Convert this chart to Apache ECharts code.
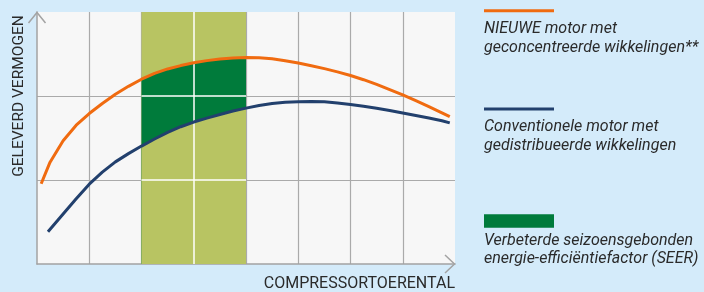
<!DOCTYPE html>
<html>
<head>
<meta charset="utf-8">
<script src="https://cdn.jsdelivr.net/npm/echarts@6/dist/echarts.min.js"></script>
<style>
html,body{margin:0;padding:0;background:#d4ebfa;}
#c{width:704px;height:292px;}
</style>
</head>
<body>
<div id="c"></div>
<script>
// Data (x: compressor speed, y: delivered capacity, relative units)
var xTicks = [0, 1, 2, 3, 4, 5, 6, 7, 8];
var yTicks = [0, 1, 2, 3];
var newMotorX = [0.08, 0.25, 0.5, 0.75, 1, 1.25, 1.5, 1.75, 2, 2.25, 2.5, 2.75, 3, 3.25, 3.5, 3.75, 4,
                 4.25, 4.5, 4.75, 5, 5.25, 5.5, 5.75, 6, 6.25, 6.5, 6.75, 7, 7.25, 7.5, 7.75, 7.9];
var newMotorY = [0.955, 1.212, 1.468, 1.652, 1.791, 1.910, 2.020, 2.115, 2.200, 2.269, 2.322, 2.362, 2.395, 2.421, 2.440, 2.453, 2.459,
                 2.456, 2.443, 2.420, 2.392, 2.360, 2.326, 2.287, 2.244, 2.194, 2.138, 2.077, 2.013, 1.944, 1.873, 1.799, 1.754];
var convMotorX = [0.21, 0.5, 0.75, 1, 1.25, 1.5, 1.75, 2, 2.25, 2.5, 2.75, 3, 3.25, 3.5, 3.75, 4,
                  4.25, 4.5, 4.75, 5, 5.25, 5.5, 5.75, 6, 6.25, 6.5, 6.75, 7, 7.25, 7.5, 7.75, 7.9];
var convMotorY = [0.384, 0.596, 0.776, 0.950, 1.093, 1.216, 1.314, 1.404, 1.488, 1.566, 1.634, 1.690, 1.736, 1.780, 1.822, 1.856,
                  1.887, 1.910, 1.925, 1.933, 1.936, 1.931, 1.918, 1.899, 1.879, 1.855, 1.828, 1.797, 1.767, 1.737, 1.706, 1.680];
var seerBand = [2, 4];
var legendTexts = [
  "NIEUWE motor met\ngeconcentreerde wikkelingen**",
  "Conventionele motor met\ngedistribueerde wikkelingen",
  "Verbeterde seizoensgebonden\nenergie-efficiëntiefactor (SEER)"
];
var yTitle = "GELEVERD VERMOGEN";
var xTitle = "COMPRESSORTOERENTAL";

var C_ORANGE = '#f06b10', C_NAVY = '#22406d', C_OLIVE = '#b8c462', C_GREEN = '#007b3b';
var C_GRID = '#aaaaaa', C_AXIS = '#a3a3a3', C_TEXT = '#2a2a2a';

function pairs(xs, ys) { return xs.map(function (x, i) { return [x, ys[i]]; }); }
function inBand(xs, ys) {
  return pairs(xs, ys).filter(function (p) { return p[0] >= seerBand[0] && p[0] <= seerBand[1]; });
}

var chart = echarts.init(document.getElementById('c'), null, {renderer: 'canvas'});
var FONT = 'Roboto, "DejaVu Sans", sans-serif';
var SM = false;

chart.setOption({
  backgroundColor: '#d4ebfa',
  animation: false,
  grid: {left: 37, right: 249, top: 12, bottom: 28, show: true, backgroundColor: '#f7f7f7', borderWidth: 0},
  xAxis: {
    type: 'value', min: xTicks[0], max: xTicks[xTicks.length - 1], interval: 1,
    axisLine: {show: true, lineStyle: {color: C_AXIS, width: 1.5}},
    axisTick: {show: false}, axisLabel: {show: false},
    splitLine: {show: true, showMinLine: false, showMaxLine: false, lineStyle: {color: C_GRID, width: 1.2}}
  },
  yAxis: {
    type: 'value', min: yTicks[0], max: yTicks[yTicks.length - 1], interval: 1,
    axisLine: {show: true, lineStyle: {color: C_AXIS, width: 1.5}},
    axisTick: {show: false}, axisLabel: {show: false},
    splitLine: {show: true, showMinLine: false, showMaxLine: false, lineStyle: {color: C_GRID, width: 1.2}}
  },
  series: [
    {
      type: 'line', z: 1, data: [], silent: true,
      markArea: {silent: true, itemStyle: {color: C_OLIVE}, data: [[{xAxis: seerBand[0]}, {xAxis: seerBand[1]}]]}
    },
    {
      type: 'line', z: 2, smooth: SM, symbol: 'none', silent: true,
      data: inBand(newMotorX, newMotorY),
      lineStyle: {width: 0}, areaStyle: {color: C_GREEN, opacity: 1, origin: 'start'}
    },
    {
      type: 'line', z: 3, smooth: SM, symbol: 'none', silent: true,
      data: inBand(convMotorX, convMotorY),
      lineStyle: {width: 0}, areaStyle: {color: C_OLIVE, opacity: 1, origin: 'start'}
    },
    {
      type: 'line', z: 4, data: [], silent: true,
      markLine: {
        silent: true, symbol: 'none', label: {show: false},
        lineStyle: {color: '#ffffff', width: 1.5, type: 'solid'},
        data: [
          [{coord: [seerBand[0], yTicks[1]]}, {coord: [seerBand[1], yTicks[1]]}],
          [{coord: [seerBand[0], yTicks[2]]}, {coord: [seerBand[1], yTicks[2]]}],
          [{coord: [(seerBand[0] + seerBand[1]) / 2, yTicks[0]]}, {coord: [(seerBand[0] + seerBand[1]) / 2, yTicks[3]]}]
        ]
      }
    },
    {
      name: 'new', type: 'line', z: 5, smooth: SM, symbol: 'none',
      data: pairs(newMotorX, newMotorY),
      lineStyle: {color: C_ORANGE, width: 3, join: 'round'}
    },
    {
      name: 'conv', type: 'line', z: 5, smooth: SM, symbol: 'none',
      data: pairs(convMotorX, convMotorY),
      lineStyle: {color: C_NAVY, width: 3, join: 'round'}
    }
  ]
});

var topLeft = chart.convertToPixel({gridIndex: 0}, [xTicks[0], yTicks[yTicks.length - 1]]);
var botRight = chart.convertToPixel({gridIndex: 0}, [xTicks[xTicks.length - 1], yTicks[0]]);
var arrowStyle = {stroke: C_AXIS, lineWidth: 1.5, fill: null};
var LX = 484;
var LFONT = 'italic 16px ' + FONT;
chart.setOption({
  graphic: [
    {type: 'polyline', shape: {points: [[topLeft[0] - 8.5, topLeft[1] + 11], [topLeft[0], topLeft[1] + 0.5], [topLeft[0] + 8.5, topLeft[1] + 11]]}, style: arrowStyle, z: 10},
    {type: 'polyline', shape: {points: [[botRight[0] - 10, botRight[1] - 9], [botRight[0] - 0.5, botRight[1]], [botRight[0] - 10, botRight[1] + 9]]}, style: arrowStyle, z: 10},
    {type: 'text', x: 19.5, y: 96, rotation: Math.PI / 2,
      style: {text: yTitle, font: '15.5px ' + FONT, fill: C_TEXT, align: 'center', verticalAlign: 'middle'}, z: 10},
    {type: 'text', x: botRight[0], y: 284,
      style: {text: xTitle, font: '16px ' + FONT, fill: C_TEXT, align: 'right', verticalAlign: 'middle'}, z: 10},
    {type: 'line', shape: {x1: LX, y1: 10.7, x2: LX + 70, y2: 10.7}, style: {stroke: C_ORANGE, lineWidth: 3}, z: 10},
    {type: 'text', x: LX, y: 20, style: {text: legendTexts[0], font: LFONT, lineHeight: 18.5, fill: C_TEXT, align: 'left', verticalAlign: 'top'}, z: 10},
    {type: 'line', shape: {x1: LX, y1: 109, x2: LX + 70, y2: 109}, style: {stroke: C_NAVY, lineWidth: 3}, z: 10},
    {type: 'text', x: LX, y: 118, style: {text: legendTexts[1], font: LFONT, lineHeight: 18.5, fill: C_TEXT, align: 'left', verticalAlign: 'top'}, z: 10},
    {type: 'rect', shape: {x: LX, y: 214.3, width: 70, height: 13.4}, style: {fill: C_GREEN}, z: 10},
    {type: 'text', x: LX, y: 231.5, style: {text: legendTexts[2], font: LFONT, lineHeight: 18.5, fill: C_TEXT, align: 'left', verticalAlign: 'top'}, z: 10}
  ]
});
</script>
</body>
</html>
